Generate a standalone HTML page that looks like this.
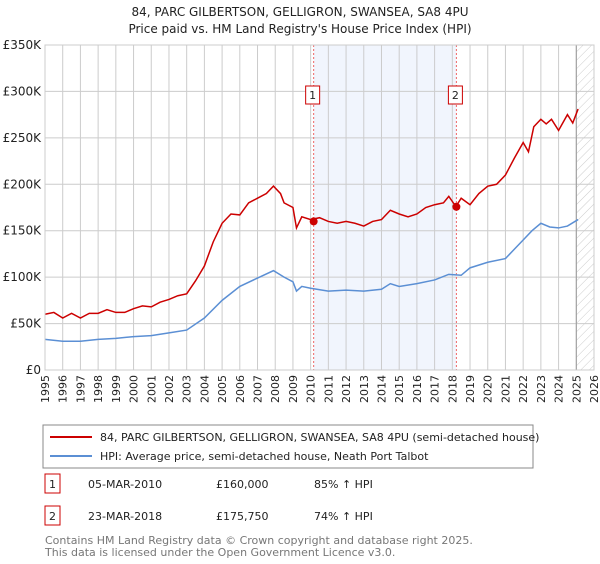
<!DOCTYPE html>
<html><head><meta charset="utf-8">
<style>
body{margin:0;background:#fff;width:600px;height:560px;overflow:hidden;font-family:"DejaVu Sans","Liberation Sans",sans-serif;}
svg text{font-family:"DejaVu Sans","Liberation Sans",sans-serif;}
</style></head><body>
<svg id="chart" width="600" height="560" xmlns="http://www.w3.org/2000/svg">
<defs><pattern id="hatch" width="6" height="6" patternUnits="userSpaceOnUse" patternTransform="rotate(45)"><line x1="0" y1="0" x2="0" y2="6" stroke="#ccc" stroke-width="1"/></pattern></defs>
<text x="300" y="16" text-anchor="middle" font-size="12" fill="#222">84, PARC GILBERTSON, GELLIGRON, SWANSEA, SA8 4PU</text>
<text x="300" y="33" text-anchor="middle" font-size="12" fill="#222">Price paid vs. HM Land Registry's House Price Index (HPI)</text>
<g id="plot"></g>
<rect x="43" y="425" width="490" height="43" fill="#fff" stroke="#888"/>
<line x1="50" y1="437" x2="92" y2="437" stroke="#cc0000" stroke-width="2"/>
<text x="100" y="441" font-size="11" fill="#222">84, PARC GILBERTSON, GELLIGRON, SWANSEA, SA8 4PU (semi-detached house)</text>
<line x1="50" y1="456" x2="92" y2="456" stroke="#5b8fd4" stroke-width="2"/>
<text x="100" y="460" font-size="11" fill="#222">HPI: Average price, semi-detached house, Neath Port Talbot</text>
<g>
<rect x="45" y="474" width="15" height="19" fill="#fff" stroke="#cc0000"/>
<text x="52.5" y="488" text-anchor="middle" font-size="11" fill="#222">1</text>
<text x="88" y="488" font-size="11" fill="#222">05-MAR-2010</text>
<text x="216" y="488" font-size="11" fill="#222">£160,000</text>
<text x="314" y="488" font-size="11" fill="#222">85% ↑ HPI</text>
</g>
<g>
<rect x="45" y="506" width="15" height="19" fill="#fff" stroke="#cc0000"/>
<text x="52.5" y="520" text-anchor="middle" font-size="11" fill="#222">2</text>
<text x="88" y="520" font-size="11" fill="#222">23-MAR-2018</text>
<text x="216" y="520" font-size="11" fill="#222">£175,750</text>
<text x="314" y="520" font-size="11" fill="#222">74% ↑ HPI</text>
</g>
<text x="45" y="544" font-size="11" fill="#777">Contains HM Land Registry data © Crown copyright and database right 2025.</text>
<text x="45" y="556" font-size="11" fill="#777">This data is licensed under the Open Government Licence v3.0.</text>
</svg>
<script>
const yTicks=[0,50000,100000,150000,200000,250000,300000,350000];
const yTickLabels=["£0","£50K","£100K","£150K","£200K","£250K","£300K","£350K"];
const xTicks=[1995,1996,1997,1998,1999,2000,2001,2002,2003,2004,2005,2006,2007,2008,2009,2010,2011,2012,2013,2014,2015,2016,2017,2018,2019,2020,2021,2022,2023,2024,2025,2026];
const propYears=[1995,1995.5,1996,1996.5,1997,1997.5,1998,1998.5,1999,1999.5,2000,2000.5,2001,2001.5,2002,2002.5,2003,2003.5,2004,2004.5,2005,2005.5,2006,2006.5,2007,2007.5,2007.9,2008.3,2008.5,2009,2009.2,2009.5,2010,2010.5,2011,2011.5,2012,2012.5,2013,2013.5,2014,2014.5,2015,2015.5,2016,2016.5,2017,2017.5,2017.8,2018.2,2018.5,2019,2019.5,2020,2020.5,2021,2021.5,2022,2022.3,2022.6,2023,2023.3,2023.6,2024,2024.5,2024.8,2025.1];
const propValues=[60000,62000,56000,61000,56000,61000,61000,65000,62000,62000,66000,69000,68000,73000,76000,80000,82000,96000,112000,138000,158000,168000,167000,180000,185000,190000,198000,190000,180000,175000,153000,165000,162000,164000,160000,158000,160000,158000,155000,160000,162000,172000,168000,165000,168000,175000,178000,180000,187000,176000,185000,178000,190000,198000,200000,210000,228000,245000,235000,262000,270000,265000,270000,258000,275000,266000,281000];
const hpiYears=[1995,1996,1997,1998,1999,2000,2001,2002,2003,2004,2005,2006,2007,2007.9,2008.5,2009,2009.2,2009.5,2010,2011,2012,2013,2014,2014.5,2015,2016,2017,2017.8,2018.5,2019,2020,2021,2021.5,2022,2022.5,2023,2023.5,2024,2024.5,2025.1];
const hpiValues=[33000,31000,31000,33000,34000,36000,37000,40000,43000,56000,75000,90000,99000,107000,100000,95000,85000,90000,88000,85000,86000,85000,87000,93000,90000,93000,97000,103000,102000,110000,116000,120000,130000,140000,150000,158000,154000,153000,155000,162000];
const saleYears=[2010.17,2018.23];
const saleValues=[160000,175750];
const saleLabels=["1","2"];
const X0=45,X1=594,Y0=370,Y1=45;
const xs=y=>X0+(y-1995)/(2026-1995)*(X1-X0);
const ys=v=>Y0-v/350000*(Y0-Y1);
const NS="http://www.w3.org/2000/svg";
const g=document.getElementById('plot');
function mk(t,a){const e=document.createElementNS(NS,t);for(const k in a)e.setAttribute(k,a[k]);g.appendChild(e);return e;}
let e;
e=mk('rect',{x:xs(saleYears[0]),y:Y1,width:xs(saleYears[1])-xs(saleYears[0]),height:Y0-Y1,fill:'#eef2fc',opacity:0.8});


e=mk('rect',{x:xs(2025.0),y:Y1,width:X1-xs(2025.0),height:Y0-Y1,fill:'url(#hatch)'});


xTicks.forEach(t=>{
 e=mk('line',{x1:xs(t),x2:xs(t),y1:Y1,y2:Y0,stroke:'#ccc','stroke-width':1});
 
 
 e=mk('text',{x:0,y:0,'font-size':11,fill:'#222','text-anchor':'end',transform:`translate(${xs(t)+4},${Y0+5}) rotate(-90)`});
 e.textContent=t;
 
 
});
yTicks.forEach((t,i)=>{
 e=mk('line',{x1:X0,x2:X1,y1:ys(t),y2:ys(t),stroke:'#ccc','stroke-width':1});
 
 
 e=mk('text',{x:X0-4,y:ys(t)+4,'font-size':12,fill:'#222','text-anchor':'end'});
 e.textContent=yTickLabels[i];
 
 
});
e=mk('line',{x1:xs(2025.0),x2:xs(2025.0),y1:Y1,y2:Y0,stroke:'#999','stroke-width':1});


saleYears.forEach((s,i)=>{
 e=mk('line',{x1:xs(s),x2:xs(s),y1:Y1,y2:Y0,stroke:'#e66','stroke-width':1,'stroke-dasharray':'2,2'});
 
 
});
e=mk('polyline',{points:hpiYears.map((y,i)=>xs(y)+','+ys(hpiValues[i])).join(' '),fill:'none',stroke:'#5b8fd4','stroke-width':1.5});


e=mk('polyline',{points:propYears.map((y,i)=>xs(y)+','+ys(propValues[i])).join(' '),fill:'none',stroke:'#cc0000','stroke-width':1.5});


saleYears.forEach((s,i)=>{
 e=mk('circle',{cx:xs(s),cy:ys(saleValues[i]),r:4,fill:'#cc0000'});
 
 
 e=mk('rect',{x:xs(s)-8,y:86,width:14,height:18,fill:'#fff',stroke:'#cc0000'});
 
 
 e=mk('text',{x:xs(s)-1,y:99,'font-size':11,fill:'#222','text-anchor':'middle'});
 e.textContent=saleLabels[i];
 
 
});
e=mk('rect',{x:X0,y:Y1,width:X1-X0,height:Y0-Y1,fill:'none',stroke:'#ccc'});


</script>
</body></html>
